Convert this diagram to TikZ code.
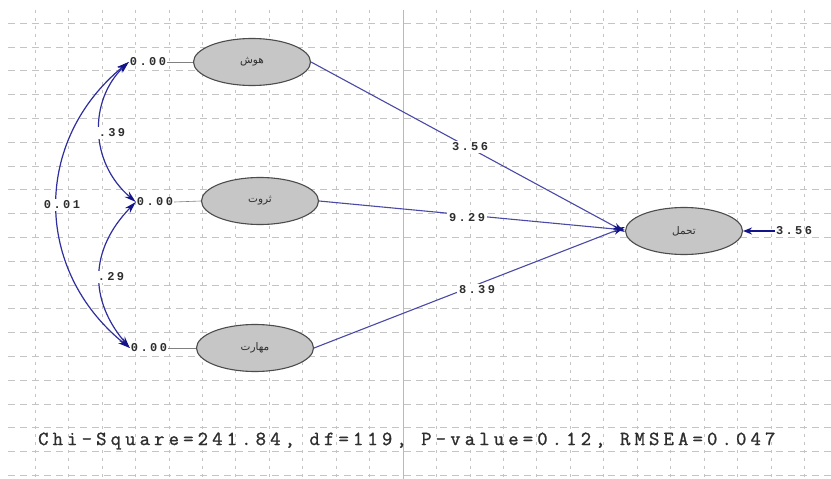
\documentclass[tikz,border=0pt]{standalone}
\usepackage{fontspec}
\setmainfont{Liberation Serif}
\newfontfamily\monofont[LetterSpace=20]{Liberation Mono}
\newfontfamily\spacedmono[LetterSpace=21,FakeBold=1.2]{Latin Modern Mono}
\newfontfamily\arabicfont[Script=Arabic]{DejaVu Sans}
\TeXXeTstate=1
\usetikzlibrary{shapes.geometric,arrows.meta}
\definecolor{gridgray}{HTML}{C4C4C4}
\definecolor{pathblue}{HTML}{4A4AA6}
\definecolor{covblue}{HTML}{2E2E9E}
\definecolor{headnavy}{HTML}{14148A}
\definecolor{latentfill}{HTML}{C6C6C6}
\definecolor{inkgray}{HTML}{2E2E2E}
\tikzset{
  hgrid/.style={gridgray, line width=0.6pt, dash pattern=on 7pt off 5pt},
  vgrid/.style={gridgray, line width=0.6pt, dash pattern=on 3pt off 5pt},
  latent/.style={ellipse, draw=black!70, line width=1.1pt, fill=latentfill,
    minimum width=117pt, minimum height=47pt, inner sep=0pt,
    font=\arabicfont\fontsize{10.5}{11}\selectfont, text=inkgray},
  num/.style={font=\monofont\bfseries\fontsize{12}{12}\selectfont, text=inkgray, inner sep=1pt},
  lab/.style={num, fill=white, inner sep=2pt},
  effect/.style={pathblue, line width=1.1pt, -{Stealth[length=12pt,width=7pt,headnavy]}},
  cov/.style={covblue, line width=1.2pt,
    {Stealth[length=12pt,width=7pt,headnavy]}-{Stealth[length=12pt,width=7pt,headnavy]}},
  stub/.style={gray, line width=0.6pt},
}
\begin{document}
\begin{tikzpicture}[x=1pt,y=-1pt]
\useasboundingbox (0,0) rectangle (831,479);
\fill[white] (0,0) rectangle (831,479);

% background grid
\foreach \k in {0,...,19}
  \draw[hgrid] (8,{23+23.8*\k}) -- (831,{23+23.8*\k});
\foreach \k in {0,...,23}
  \draw[vgrid] ({35+33.45*\k},10) -- ({35+33.45*\k},479);
\draw[gray!55, line width=0.7pt] (403,10) -- (403,479);

% latent variables
\node[latent] (hush)    at (252,62)  {\beginR هوش\endR};
\node[latent] (servat)  at (260,201) {\beginR ثروت\endR};
\node[latent] (maharat) at (255,348) {\beginR مهارت\endR};
\node[latent] (tahamol) at (684,231) {\beginR تحمل\endR};

% variances of the exogenous variables
\node[num] (v1) at (148,62)  {0.00};
\node[num] (v2) at (155,202) {0.00};
\node[num] (v3) at (149,348) {0.00};
\draw[stub] (v1.east) -- (hush.west);
\draw[stub] (v2.east) -- (servat.west);
\draw[stub] (v3.east) -- (maharat.west);

% covariances
\draw[cov] (v1.west) .. controls (33,140) and (33,270) .. (v3.west);
\draw[cov] (v1.west) .. controls (89,100) and (89,162) .. (v2.west);
\draw[cov] (v2.west) .. controls (89,250) and (89,300) .. (v3.west);
\node[lab] (c13) at (62,205)  {0.01};
\node[lab] (c12) at (112,133) {.39};
\node[lab] (c23) at (111,277) {.29};

% structural paths
\draw[effect] (hush.east)    -- ([yshift=-1pt]tahamol.west);
\draw[effect] (servat.east)  -- ([yshift=1pt]tahamol.west);
\draw[effect] (maharat.east) -- ([yshift=4pt]tahamol.west);
\node[lab] (p1) at (470,147) {3.56};
\node[lab] (p2) at (467,218) {9.29};
\node[lab] (p3) at (477,290) {8.39};

% error variance
\node[num] (err) at (794,231) {3.56};
\draw[headnavy, line width=2pt, -{Stealth[length=9pt,width=7pt]}] (err.west) -- (tahamol.east);

% fit statistics
\node[font=\spacedmono\fontsize{20}{20}\selectfont, text=inkgray, inner sep=0pt, anchor=west] (fit) at (38,441)
  {Chi-Square=241.84, df=119, P-value=0.12, RMSEA=0.047};
\end{tikzpicture}
\end{document}
